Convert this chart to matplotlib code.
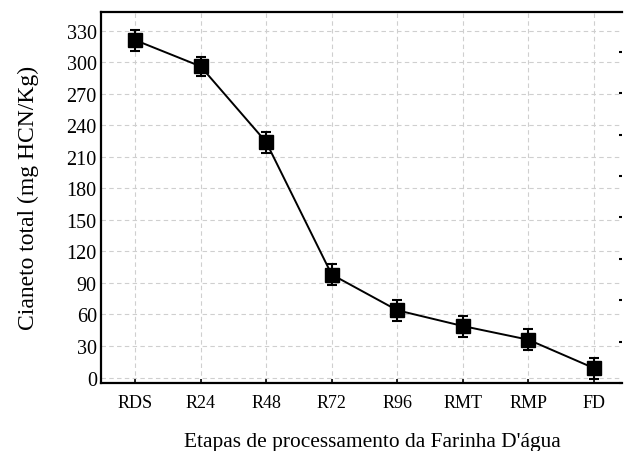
import matplotlib
matplotlib.use("Agg")
import matplotlib.pyplot as plt
import numpy as np

categories = ["RDS", "R24", "R48", "R72", "R96", "RMT", "RMP", "FD"]
values = [321, 296, 224, 98, 64, 49, 36, 9]
errors = [10, 9, 10, 10, 10, 10, 10, 10]
yticks = list(range(0, 331, 30))

plt.rcParams['font.family'] = ['Liberation Serif', 'DejaVu Serif']

fig = plt.figure(figsize=(6.24, 4.52), dpi=100)
ax = fig.add_axes([101/624, (452-384)/452, (622-101)/624, (384-12.7)/452])

x = np.arange(len(categories))
ax.errorbar(x, values, yerr=errors, color='black', marker='s', markersize=10,
            linewidth=1.4, elinewidth=1.5, capsize=3.3, capthick=1.5, zorder=3)

ax.set_xlim(-0.52, 7.43)
ax.set_ylim(-5.2, 348)
ax.set_xticks(x)
ax.set_xticklabels(categories, fontsize=13)
ax.set_yticks(yticks)
ax.set_yticklabels([str(v) for v in yticks], fontsize=14.5)
ax.tick_params(axis='x', direction='in', length=3, width=1.2, pad=8)
ax.tick_params(axis='y', direction='in', length=0, pad=3)
ax.grid(True, color='#cfcfcf', linestyle=(0, (4, 3)), linewidth=0.8)
ax.set_axisbelow(True)

for s in ['left', 'bottom', 'top']:
    ax.spines[s].set_linewidth(1.6)
ax.spines['right'].set_visible(False)

ax.set_ylabel("Cianeto total (mg HCN/Kg)", fontsize=17, labelpad=20)
ax.set_xlabel("Etapas de processamento da Farinha D'água", fontsize=15.4)
ax.xaxis.set_label_coords((372 - 101) / (622 - 101), -(443 - 384) / (384 - 12.7))
ax.xaxis.label.set_va('center')

ax2 = ax.twinx()
ax2.set_ylim(0, 8.97)
ax2.set_yticks(range(0, 9))
ax2.set_yticklabels([])
ax2.tick_params(axis='y', direction='in', length=2, width=1.5)
for s in ax2.spines.values():
    s.set_visible(False)

fig.savefig("out.png", dpi=100)
